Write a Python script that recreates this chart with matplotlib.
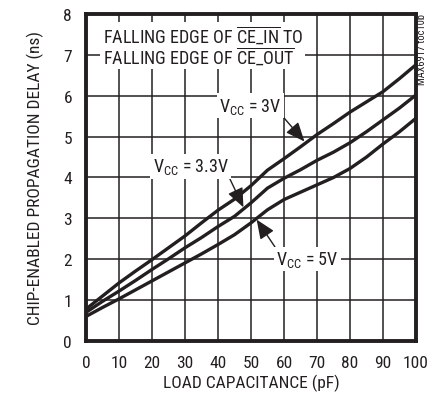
import matplotlib
matplotlib.use("Agg")
import matplotlib.pyplot as plt
from matplotlib import font_manager

# pick a condensed sans if one is installed
cond = []
for f in font_manager.fontManager.ttflist:
    st = str(f.stretch).lower()
    if (('condensed' in f.name.lower() or 'narrow' in f.name.lower() or 'condensed' in st or 'narrow' in st)
            and f.style == 'normal' and str(f.weight) in ('400', 'normal', 'regular', 'book')):
        cond.append((f.name, st))
pref = ['Liberation Sans Narrow', 'Roboto Condensed', 'Noto Sans', 'Open Sans', 'DejaVu Sans']
chosen = None
for p in pref:
    for n, st in cond:
        if n.startswith(p):
            chosen = (n, st)
            break
    if chosen:
        break
if chosen is None and cond:
    chosen = cond[0]

if chosen:
    FONT, STRETCH = chosen[0], chosen[1]
    if STRETCH in ('normal', '500'):
        STRETCH = 'normal'
    FS = 12.5
else:
    FONT, STRETCH = 'Liberation Sans', 'normal'
    FS = 11

plt.rcParams['font.family'] = [FONT, 'DejaVu Sans']
plt.rcParams['font.stretch'] = STRETCH
plt.rcParams['mathtext.fontset'] = 'custom'
plt.rcParams['mathtext.rm'] = FONT
plt.rcParams['mathtext.it'] = FONT
plt.rcParams['mathtext.bf'] = FONT
plt.rcParams['mathtext.sf'] = FONT

load_pf = [0, 5, 10, 15, 20, 25, 30, 35, 40, 45, 50, 55, 60, 65, 70, 75, 80, 85, 90, 95, 100]
delay_3v = [0.78, 1.10, 1.42, 1.71, 1.99, 2.28, 2.57, 2.89, 3.20, 3.47, 3.80, 4.18, 4.46, 4.75, 5.05, 5.32, 5.60, 5.85, 6.10, 6.42, 6.76]
delay_33v = [0.70, 0.97, 1.22, 1.48, 1.75, 2.01, 2.28, 2.53, 2.80, 3.05, 3.38, 3.74, 3.98, 4.19, 4.42, 4.62, 4.85, 5.12, 5.41, 5.70, 6.02]
delay_5v = [0.60, 0.82, 1.03, 1.25, 1.47, 1.69, 1.91, 2.13, 2.36, 2.60, 2.89, 3.21, 3.46, 3.64, 3.82, 4.00, 4.22, 4.50, 4.82, 5.12, 5.45]

x_ticks = [0, 10, 20, 30, 40, 50, 60, 70, 80, 90, 100]
y_ticks = [0, 1, 2, 3, 4, 5, 6, 7, 8]

INK = '#231f20'
FT = FS + 0.5
fig = plt.figure(figsize=(4.42, 4.02), dpi=100)
ax = fig.add_axes([0.1946, 0.1493, 0.7466, 0.8134])

for ys in (delay_3v, delay_33v, delay_5v):
    ax.plot(load_pf, ys, color=INK, lw=2.4, solid_capstyle='round', solid_joinstyle='round', zorder=3)

ax.set_xlim(0, 100)
ax.set_ylim(0, 8)
ax.set_xticks(x_ticks)
ax.set_yticks(y_ticks)
ax.tick_params(length=0, labelsize=FS, pad=10, colors=INK)
ax.grid(True, color=INK, lw=1.1, zorder=1)
for s in ax.spines.values():
    s.set_linewidth(2.8)
    s.set_color(INK)

ax.set_xlabel('LOAD CAPACITANCE (pF)', fontsize=FS, color=INK, labelpad=3)
ax.set_ylabel('CHIP-ENABLED PROPAGATION DELAY (ns)', fontsize=FS, color=INK, labelpad=14)

ax.text(5.0, 7.23, r'FALLING EDGE OF $\overline{\mathrm{CE\_IN}}$ TO' + '\n' +
        r'FALLING EDGE OF $\overline{\mathrm{CE\_OUT}}$',
        fontsize=FT, color=INK, va='center', ha='left', linespacing=0.98,
        bbox=dict(facecolor='white', edgecolor='none', pad=1.5), zorder=4)

bbox = dict(facecolor='white', edgecolor='none', pad=1.5)
ak = dict(arrowstyle='-|>,head_length=0.9,head_width=0.38', color=INK, lw=1.0, shrinkA=0, shrinkB=0)
ax.annotate(r'V$_{\mathrm{CC}}$ = 3V', xy=(66.2, 4.88), xytext=(49.9, 5.76),
            fontsize=FT, color=INK, ha='center', va='center', bbox=bbox,
            arrowprops=dict(ak, relpos=(1.0, 0.0)), zorder=5)
ax.annotate(r'V$_{\mathrm{CC}}$ = 3.3V', xy=(47.7, 3.27), xytext=(31.7, 4.27),
            fontsize=FT, color=INK, ha='center', va='center', bbox=bbox,
            arrowprops=dict(ak, relpos=(1.0, 0.0)), zorder=5)
ax.annotate(r'V$_{\mathrm{CC}}$ = 5V', xy=(51.7, 2.97), xytext=(67.2, 2.0),
            fontsize=FT, color=INK, ha='center', va='center', bbox=bbox,
            arrowprops=dict(ak, relpos=(0.0, 1.0)), zorder=5)

fig.text(0.955, 0.965, 'MAX6917 toc10b', rotation=90, fontsize=7.5, color=INK,
         ha='center', va='top')

fig.savefig('out.png', dpi=100)
